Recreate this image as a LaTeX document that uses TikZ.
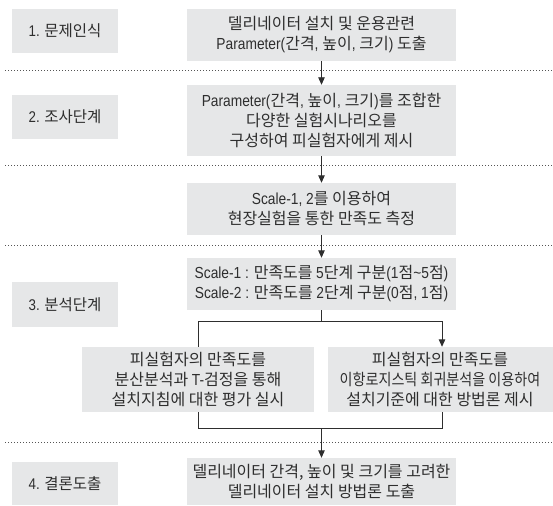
\documentclass[tikz,border=0pt]{standalone}
\usepackage{fontspec}
\usepackage{graphicx}
\setmainfont{Noto Sans CJK KR}
\newfontfamily\latn{Liberation Sans}[FakeStretch=0.86]
\newcommand\lt[1]{{\latn #1}}
\usetikzlibrary{arrows.meta}
\definecolor{boxfill}{HTML}{E6E7E8}
\definecolor{ink}{HTML}{2E2E2E}
\definecolor{dotc}{HTML}{555555}
\tikzset{
  box/.style={fill=boxfill, draw=none, inner sep=0pt, align=center, text=ink,
    font=\fontsize{16}{20}\selectfont},
  mainbox/.style={box, minimum width=269pt, minimum height=52pt},
  labelbox/.style={box, minimum width=106pt, minimum height=44pt, font=\fontsize{15.5}{18}\selectfont},
  plaintext/.style={inner sep=0pt, align=center, text=ink, font=\fontsize{16}{20}\selectfont},
  conn/.style={draw=ink, line width=0.9pt},
  arr/.style={conn, -{Triangle[width=6.5pt,length=7.5pt]}},
  sep/.style={draw=dotc, line width=0.9pt, dash pattern=on 1.3pt off 1.7pt}
}
\begin{document}
\begin{tikzpicture}[x=1pt,y=-1pt]
\useasboundingbox (0,0) rectangle (553,505);
% separators
\coordinate (s1a) at (5,70);   \coordinate (s1b) at (553,70);
\coordinate (s2a) at (5,165);  \coordinate (s2b) at (553,165);
\coordinate (s3a) at (5,245);  \coordinate (s3b) at (553,245);
\coordinate (s4a) at (5,442);  \coordinate (s4b) at (553,442);
\draw[sep] (s1a) -- (s1b);
\draw[sep] (s2a) -- (s2b);
\draw[sep] (s3a) -- (s3b);
\draw[sep] (s4a) -- (s4b);
% stage labels
\node[labelbox] (l1) at (65,31) {\lt{1.} 문제인식};
\node[labelbox] (l2) at (65,117) {\lt{2.} 조사단계};
\node[labelbox, minimum height=45pt] (l3) at (65,304.5) {\lt{3.} 분석단계};
\node[labelbox, minimum height=43pt] (l4) at (65,483.5) {\lt{4.} 결론도출};
% main boxes
\node[mainbox] (b1) at (321.5,35) {델리네이터 설치 및 운용관련\\\lt{Parameter(}간격\lt{, }높이\lt{, }크기\lt{)} 도출};
\node[mainbox, minimum height=71pt] (b2) at (321.5,120.5) {\lt{Parameter(}간격\lt{, }높이\lt{, }크기\lt{)}를 조합한\\다양한 실험시나리오를\\구성하여 피실험자에게 제시};
\node[mainbox] (b3) at (321.5,209) {\lt{Scale-1, 2}를 이용하여\\현장실험을 통한 만족도 측정};
\node[mainbox] (b4) at (321.5,284) {\lt{Scale-1 :} 만족도를 \lt{5}단계 구분\lt{(1}점\lt{\textasciitilde5}점\lt{)}\\\lt{Scale-2 :} 만족도를 \lt{2}단계 구분\lt{(0}점\lt{, 1}점\lt{)}};
\node[box, minimum width=232pt, minimum height=65pt] (b5a) at (198,379.5) {피실험자의 만족도를\\분산분석과 \lt{T-}검정을 통해\\설치지침에 대한 평가 실시};
\node[box, minimum width=228pt, minimum height=65pt] (b5b) at (442,379.5) {};
\node[plaintext] (b5bt) at (440,379.5) {피실험자의 만족도를\\\scalebox{0.88}[1]{이항로지스틱 회귀분석을 이용하여}\\설치기준에 대한 방법론 제시};
\node[mainbox, minimum height=47pt] (b6) at (321.5,481.5) {델리네이터 간격, 높이 및 크기를 고려한\\델리네이터 설치 방법론 도출};
% connectors
\draw[arr] (b1) -- (b2);
\draw[arr] (b2) -- (b3);
\draw[arr] (b3) -- (b4);
\coordinate (j1) at (321.5,321);
\coordinate (j2) at (321.5,428);
\draw[conn] (b4.south) -- (j1);
\draw[conn] (b5a.north) -- (b5a.north |- j1) -- (b5b.north |- j1);
\draw[arr] (b5b.north |- j1) -- (b5b.north);
\draw[conn] (b5a.south) -- (b5a.south |- j2) -- (b5b.south |- j2) -- (b5b.south);
\draw[arr] (j2) -- (b6.north);
\end{tikzpicture}
\end{document}
